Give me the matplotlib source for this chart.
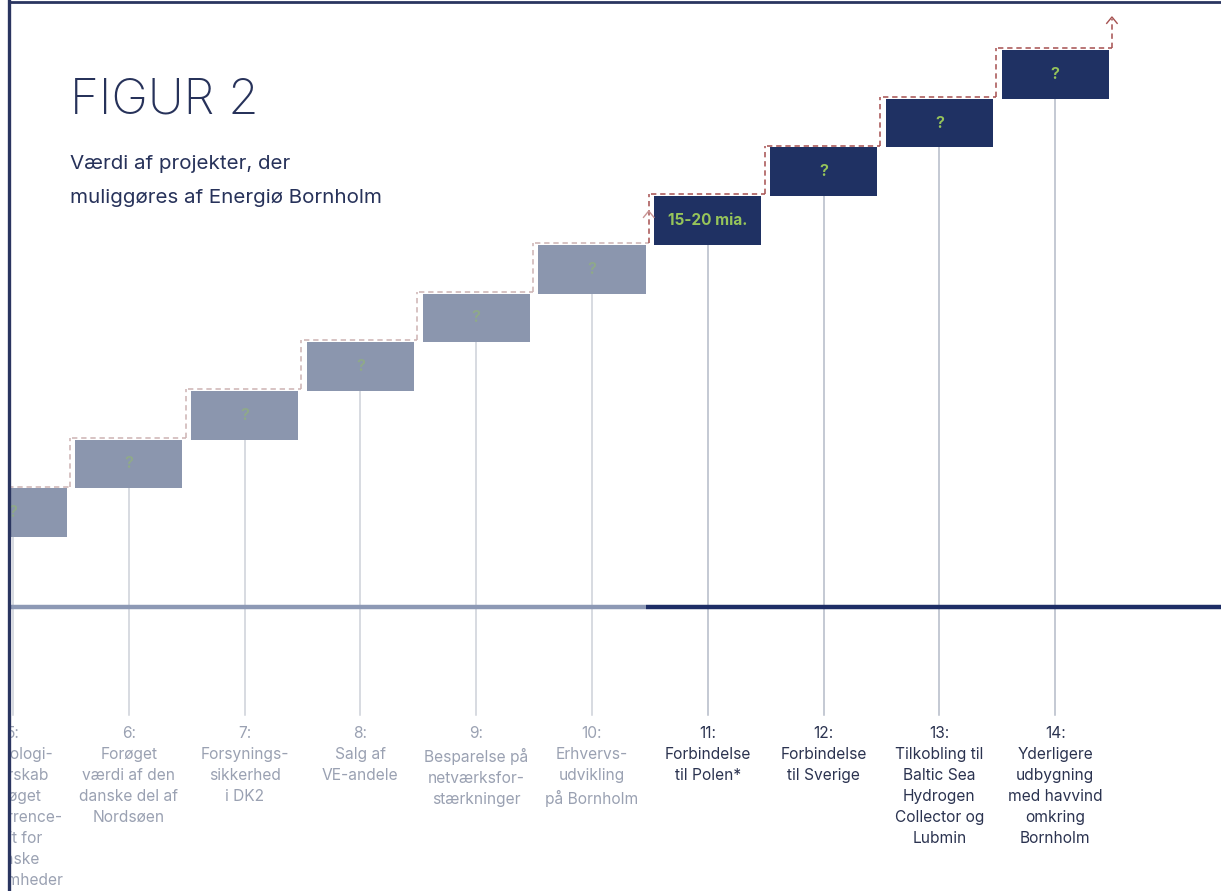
import numpy as np
import matplotlib
matplotlib.use("Agg")
import matplotlib.pyplot as plt
from matplotlib.lines import Line2D

# ---------------- data ----------------
project_numbers = [5, 6, 7, 8, 9, 10, 11, 12, 13, 14]
project_labels = [
    "5:\nTeknologi-\nlederskab\nog øget\nkonkurrence-\nkraft for\ndanske\nvirksomheder",
    "6:\nForøget\nværdi af den\ndanske del af\nNordsøen",
    "7:\nForsynings-\nsikkerhed\ni DK2",
    "8:\nSalg af\nVE-andele",
    "9:\nBesparelse på\nnetværksfor-\nstærkninger",
    "10:\nErhvervs-\nudvikling\npå Bornholm",
    "11:\nForbindelse\ntil Polen*",
    "12:\nForbindelse\ntil Sverige",
    "13:\nTilkobling til\nBaltic Sea\nHydrogen\nCollector og\nLubmin",
    "14:\nYderligere\nudbygning\nmed havvind\nomkring\nBornholm",
]
step_values = [1, 1, 1, 1, 1, 1, 1, 1, 1, 1]   # equal, unquantified steps
box_texts = ["?", "?", "?", "?", "?", "?", "15-20 mia.", "?", "?", "?"]
enabled_by_island = [False] * 6 + [True] * 4

# ---------------- style ----------------
FONT = "Inter"
NAVY = "#1f3163"
LIGHT_BOX = "#8b96ae"
GREEN = "#96c45a"
GREEN_FAINT = "#8fa98a"
GRAY_TXT = "#9aa1b2"
DARK_TXT = "#2b3350"
RED_DASH = "#a5504f"
PINK_DASH = "#cdb3b3"

W, H = 1221, 891
fig = plt.figure(figsize=(W / 100, H / 100), dpi=100)
fig.patch.set_facecolor("white")

# pixel <-> data mapping for layout of the axes window
X0, DX = 13.0, 115.8     # px of item 5 centre, px per item
Y0, DY = 537.0, 48.7     # px of level 0, px per level
LEFT = 9
ax = fig.add_axes([LEFT / W, 0, 1 - LEFT / W, 1])
ax.set_xlim(5 + (LEFT - X0) / DX, 5 + (W - X0) / DX)
ax.set_ylim((Y0 - H) / DY, Y0 / DY)
ax.axis("off")

x = np.array(project_numbers, dtype=float)
vals = np.array(step_values, dtype=float)
tops = np.cumsum(vals)
bottoms = tops - vals

# baseline
base_y = (Y0 - 607) / DY
split = 10.47
ax.plot([ax.get_xlim()[0], split], [base_y, base_y], color="#8d99b5", lw=3.2,
        solid_capstyle="butt", zorder=2)
ax.plot([split, ax.get_xlim()[1]], [base_y, base_y], color="#1e2e66", lw=3.2,
        solid_capstyle="butt", zorder=2)

# vertical stems
stem_bottom = (Y0 - 715) / DY
for xi, b, on in zip(x, bottoms, enabled_by_island):
    ax.plot([xi, xi], [stem_bottom, b], color="#b4bac8" if on else "#cdd1d9",
            lw=1.1, zorder=1)

# boxes
colors = [NAVY if on else LIGHT_BOX for on in enabled_by_island]
ax.bar(x, vals, bottom=bottoms, width=0.925, color=colors, zorder=3)

for xi, b, t, txt, on in zip(x, bottoms, tops, box_texts, enabled_by_island):
    big = txt != "?"
    ax.text(xi, (b + t) / 2, txt, ha="center", va="center", family=FONT,
            fontsize=11 if big else 12, fontweight="bold" if big else "semibold",
            color=GREEN if on else GREEN_FAINT, zorder=4, clip_on=True)

# dashed staircase
off = 0.035
gx = 0.49
for i, (xi, t, on) in enumerate(zip(x, tops, enabled_by_island)):
    c = RED_DASH if on else PINK_DASH
    ax.plot([xi - gx, xi + gx], [t + off, t + off], color=c, lw=1.1,
            ls=(0, (3.5, 2.5)), zorder=5)
    if i + 1 < len(x):
        cn = RED_DASH if enabled_by_island[i + 1] else PINK_DASH
        ax.plot([xi + gx, xi + gx], [t + off, tops[i + 1] + off], color=cn,
                lw=1.1, ls=(0, (3.5, 2.5)), zorder=5)

# final upward dashed arrow
xe = x[-1] + gx
top_end = (Y0 - 17) / DY
ax.plot([xe, xe], [tops[-1] + off, top_end - 0.05], color=RED_DASH, lw=1.1,
        ls=(0, (3.5, 2.5)), zorder=5)
ax.plot([xe - 0.045, xe, xe + 0.045], [top_end - 0.13, top_end, top_end - 0.13],
        color=RED_DASH, lw=1.0, zorder=5)
# chevron where the island-enabled projects start
xa = x[5] + gx
ya = (Y0 - 211) / DY
ax.plot([xa - 0.045, xa, xa + 0.045], [ya - 0.13, ya, ya - 0.13],
        color="#c89494", lw=1.0, zorder=5)

# category labels
label_top = (Y0 - 726) / DY
for xi, lab, on in zip(x, project_labels, enabled_by_island):
    ax.text(xi, label_top, lab, ha="center", va="top",
            family=FONT, fontsize=11.2, color=DARK_TXT if on else GRAY_TXT,
            linespacing=1.5, clip_on=True, zorder=4)

# titles
fig.text(70 / W, 1 - 101 / H, "FIGUR 2", family=FONT, fontweight="light",
         fontsize=35.5, color="#27325a", va="center", ha="left")
fig.text(70 / W, 1 - 169 / H, "Værdi af projekter, der", family=FONT,
         fontsize=14.8, color="#27325a", va="baseline", ha="left")
fig.text(70 / W, 1 - 203 / H, "muliggøres af Energiø Bornholm", family=FONT,
         fontsize=14.8, color="#27325a", va="baseline", ha="left")

# frame lines
fig.add_artist(Line2D([LEFT / W, LEFT / W], [0, 1], color="#2a3560", lw=2.4,
                      transform=fig.transFigure))
fig.add_artist(Line2D([LEFT / W, 1], [1 - 1.5 / H, 1 - 1.5 / H], color="#2a3560",
                      lw=2.0, transform=fig.transFigure))

fig.savefig("out.png", dpi=100, facecolor="white")
